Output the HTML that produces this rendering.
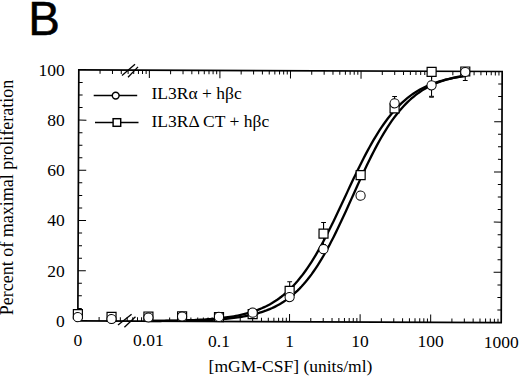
<!DOCTYPE html><html><head><meta charset="utf-8"><style>html,body{margin:0;padding:0;background:#fff;}svg{display:block;}</style></head><body>
<svg width="520" height="376" viewBox="0 0 520 376">
<rect width="520" height="376" fill="#fff"/>
<defs><clipPath id="pc"><rect x="78.33" y="70.70" width="423.37" height="251.05"/></clipPath></defs>
<text x="28.3" y="34.8" font-family="Liberation Sans, sans-serif" font-size="47.5" fill="#000" stroke="#000" stroke-width="0.5">B</text>
<g transform="rotate(0.22 290 196)">
<path d="M148.89,321.47 L150.88,321.45 L152.87,321.43 L154.85,321.41 L156.84,321.39 L158.83,321.36 L160.81,321.33 L162.80,321.30 L164.79,321.27 L166.77,321.24 L168.76,321.20 L170.75,321.16 L172.73,321.12 L174.72,321.07 L176.71,321.03 L178.69,320.97 L180.68,320.92 L182.67,320.86 L184.66,320.80 L186.64,320.73 L188.63,320.66 L190.62,320.58 L192.60,320.50 L194.59,320.41 L196.58,320.31 L198.56,320.21 L200.55,320.10 L202.54,319.98 L204.52,319.86 L206.51,319.72 L208.50,319.58 L210.48,319.43 L212.47,319.26 L214.46,319.09 L216.45,318.90 L218.43,318.70 L220.42,318.48 L222.41,318.25 L224.39,318.01 L226.38,317.75 L228.37,317.46 L230.35,317.16 L232.34,316.84 L234.33,316.50 L236.31,316.13 L238.30,315.74 L240.29,315.33 L242.27,314.88 L244.26,314.40 L246.25,313.89 L248.24,313.35 L250.22,312.77 L252.21,312.16 L254.20,311.50 L256.18,310.80 L258.17,310.06 L260.16,309.26 L262.14,308.42 L264.13,307.52 L266.12,306.57 L268.10,305.55 L270.09,304.48 L272.08,303.33 L274.06,302.12 L276.05,300.84 L278.04,299.48 L280.03,298.04 L282.01,296.52 L284.00,294.91 L285.99,293.21 L287.97,291.42 L289.96,289.53 L291.95,287.55 L293.93,285.46 L295.92,283.27 L297.91,280.97 L299.89,278.56 L301.88,276.04 L303.87,273.40 L305.85,270.66 L307.84,267.79 L309.83,264.82 L311.82,261.73 L313.80,258.53 L315.79,255.21 L317.78,251.79 L319.76,248.26 L321.75,244.63 L323.74,240.91 L325.72,237.09 L327.71,233.18 L329.70,229.20 L331.68,225.14 L333.67,221.02 L335.66,216.84 L337.64,212.62 L339.63,208.36 L341.62,204.07 L343.61,199.77 L345.59,195.45 L347.58,191.14 L349.57,186.85 L351.55,182.57 L353.54,178.33 L355.53,174.13 L357.51,169.99 L359.50,165.90 L361.49,161.88 L363.47,157.94 L365.46,154.09 L367.45,150.32 L369.43,146.64 L371.42,143.07 L373.41,139.60 L375.40,136.24 L377.38,132.99 L379.37,129.85 L381.36,126.82 L383.34,123.91 L385.33,121.11 L387.32,118.43 L389.30,115.86 L391.29,113.40 L393.28,111.05 L395.26,108.81 L397.25,106.68 L399.24,104.65 L401.22,102.72 L403.21,100.88 L405.20,99.14 L407.19,97.50 L409.17,95.94 L411.16,94.46 L413.15,93.07 L415.13,91.75 L417.12,90.51 L419.11,89.33 L421.09,88.23 L423.08,87.19 L425.07,86.21 L427.05,85.28 L429.04,84.42 L431.03,83.60 L433.01,82.83 L435.00,82.11 L436.99,81.44 L438.98,80.80 L440.96,80.21 L442.95,79.65 L444.94,79.13 L446.92,78.64 L448.91,78.18 L450.90,77.75 L452.88,77.35 L454.87,76.97 L456.86,76.62 L458.84,76.29 L460.83,75.98 L462.82,75.69 L464.80,75.42" fill="none" stroke="#000" stroke-width="2.3"/>
<path d="M148.89,321.58 L150.88,321.56 L152.87,321.55 L154.85,321.53 L156.84,321.52 L158.83,321.50 L160.81,321.48 L162.80,321.46 L164.79,321.44 L166.77,321.42 L168.76,321.40 L170.75,321.37 L172.73,321.34 L174.72,321.31 L176.71,321.28 L178.69,321.25 L180.68,321.21 L182.67,321.17 L184.66,321.13 L186.64,321.08 L188.63,321.03 L190.62,320.98 L192.60,320.92 L194.59,320.86 L196.58,320.80 L198.56,320.73 L200.55,320.65 L202.54,320.57 L204.52,320.49 L206.51,320.39 L208.50,320.30 L210.48,320.19 L212.47,320.08 L214.46,319.95 L216.45,319.82 L218.43,319.68 L220.42,319.53 L222.41,319.37 L224.39,319.20 L226.38,319.01 L228.37,318.81 L230.35,318.60 L232.34,318.37 L234.33,318.12 L236.31,317.86 L238.30,317.58 L240.29,317.28 L242.27,316.96 L244.26,316.61 L246.25,316.24 L248.24,315.84 L250.22,315.42 L252.21,314.97 L254.20,314.48 L256.18,313.97 L258.17,313.41 L260.16,312.82 L262.14,312.19 L264.13,311.52 L266.12,310.80 L268.10,310.03 L270.09,309.21 L272.08,308.33 L274.06,307.40 L276.05,306.41 L278.04,305.36 L280.03,304.24 L282.01,303.05 L284.00,301.78 L285.99,300.44 L287.97,299.01 L289.96,297.50 L291.95,295.90 L293.93,294.21 L295.92,292.42 L297.91,290.53 L299.89,288.54 L301.88,286.44 L303.87,284.23 L305.85,281.90 L307.84,279.47 L309.83,276.91 L311.82,274.24 L313.80,271.44 L315.79,268.53 L317.78,265.49 L319.76,262.33 L321.75,259.05 L323.74,255.65 L325.72,252.13 L327.71,248.51 L329.70,244.77 L331.68,240.93 L333.67,236.99 L335.66,232.96 L337.64,228.84 L339.63,224.65 L341.62,220.38 L343.61,216.06 L345.59,211.69 L347.58,207.29 L349.57,202.85 L351.55,198.40 L353.54,193.94 L355.53,189.48 L357.51,185.04 L359.50,180.63 L361.49,176.26 L363.47,171.94 L365.46,167.67 L367.45,163.48 L369.43,159.36 L371.42,155.32 L373.41,151.38 L375.40,147.53 L377.38,143.79 L379.37,140.15 L381.36,136.63 L383.34,133.23 L385.33,129.94 L387.32,126.78 L389.30,123.73 L391.29,120.81 L393.28,118.01 L395.26,115.33 L397.25,112.77 L399.24,110.32 L401.22,108.00 L403.21,105.78 L405.20,103.68 L407.19,101.68 L409.17,99.78 L411.16,97.99 L413.15,96.29 L415.13,94.69 L417.12,93.17 L419.11,91.74 L421.09,90.39 L423.08,89.12 L425.07,87.93 L427.05,86.80 L429.04,85.75 L431.03,84.75 L433.01,83.82 L435.00,82.94 L436.99,82.12 L438.98,81.35 L440.96,80.63 L442.95,79.95 L444.94,79.32 L446.92,78.72 L448.91,78.17 L450.90,77.65 L452.88,77.16 L454.87,76.71 L456.86,76.28 L458.84,75.89 L460.83,75.52 L462.82,75.17 L464.80,74.85" fill="none" stroke="#000" stroke-width="2.3"/>
<path d="M78.33,309.20H82.23 M501.70,309.20H497.80 M78.33,296.64H82.23 M501.70,296.64H497.80 M78.33,284.09H82.23 M501.70,284.09H497.80 M78.33,271.54H86.13 M501.70,271.54H493.90 M78.33,258.99H82.23 M501.70,258.99H497.80 M78.33,246.44H82.23 M501.70,246.44H497.80 M78.33,233.88H82.23 M501.70,233.88H497.80 M78.33,221.33H86.13 M501.70,221.33H493.90 M78.33,208.78H82.23 M501.70,208.78H497.80 M78.33,196.23H82.23 M501.70,196.23H497.80 M78.33,183.67H82.23 M501.70,183.67H497.80 M78.33,171.12H86.13 M501.70,171.12H493.90 M78.33,158.57H82.23 M501.70,158.57H497.80 M78.33,146.02H82.23 M501.70,146.02H497.80 M78.33,133.46H82.23 M501.70,133.46H497.80 M78.33,120.91H86.13 M501.70,120.91H493.90 M78.33,108.36H82.23 M501.70,108.36H497.80 M78.33,95.81H82.23 M501.70,95.81H497.80 M78.33,83.25H82.23 M501.70,83.25H497.80 M99.57,321.75V317.85 M99.57,70.70V74.60 M112.00,321.75V317.85 M112.00,70.70V74.60 M120.81,321.75V317.85 M120.81,70.70V74.60 M127.65,321.75V317.85 M127.65,70.70V74.60 M133.24,321.75V317.85 M133.24,70.70V74.60 M137.96,321.75V317.85 M137.96,70.70V74.60 M142.05,321.75V317.85 M142.05,70.70V74.60 M145.66,321.75V317.85 M145.66,70.70V74.60 M148.89,321.75V313.95 M148.89,70.70V78.50 M170.13,321.75V317.85 M170.13,70.70V74.60 M182.56,321.75V317.85 M182.56,70.70V74.60 M191.37,321.75V317.85 M191.37,70.70V74.60 M198.21,321.75V317.85 M198.21,70.70V74.60 M203.80,321.75V317.85 M203.80,70.70V74.60 M208.52,321.75V317.85 M208.52,70.70V74.60 M212.62,321.75V317.85 M212.62,70.70V74.60 M216.22,321.75V317.85 M216.22,70.70V74.60 M219.45,321.75V313.95 M219.45,70.70V78.50 M240.69,321.75V317.85 M240.69,70.70V74.60 M253.12,321.75V317.85 M253.12,70.70V74.60 M261.94,321.75V317.85 M261.94,70.70V74.60 M268.77,321.75V317.85 M268.77,70.70V74.60 M274.36,321.75V317.85 M274.36,70.70V74.60 M279.08,321.75V317.85 M279.08,70.70V74.60 M283.18,321.75V317.85 M283.18,70.70V74.60 M286.79,321.75V317.85 M286.79,70.70V74.60 M290.01,321.75V313.95 M290.01,70.70V78.50 M311.26,321.75V317.85 M311.26,70.70V74.60 M323.68,321.75V317.85 M323.68,70.70V74.60 M332.50,321.75V317.85 M332.50,70.70V74.60 M339.34,321.75V317.85 M339.34,70.70V74.60 M344.92,321.75V317.85 M344.92,70.70V74.60 M349.65,321.75V317.85 M349.65,70.70V74.60 M353.74,321.75V317.85 M353.74,70.70V74.60 M357.35,321.75V317.85 M357.35,70.70V74.60 M360.58,321.75V313.95 M360.58,70.70V78.50 M381.82,321.75V317.85 M381.82,70.70V74.60 M394.24,321.75V317.85 M394.24,70.70V74.60 M403.06,321.75V317.85 M403.06,70.70V74.60 M409.90,321.75V317.85 M409.90,70.70V74.60 M415.48,321.75V317.85 M415.48,70.70V74.60 M420.21,321.75V317.85 M420.21,70.70V74.60 M424.30,321.75V317.85 M424.30,70.70V74.60 M427.91,321.75V317.85 M427.91,70.70V74.60 M431.14,321.75V313.95 M431.14,70.70V78.50 M452.38,321.75V317.85 M452.38,70.70V74.60 M464.80,321.75V317.85 M464.80,70.70V74.60 M473.62,321.75V317.85 M473.62,70.70V74.60 M480.46,321.75V317.85 M480.46,70.70V74.60 M486.05,321.75V317.85 M486.05,70.70V74.60 M490.77,321.75V317.85 M490.77,70.70V74.60 M494.86,321.75V317.85 M494.86,70.70V74.60 M498.47,321.75V317.85 M498.47,70.70V74.60" stroke="#000" stroke-width="1.0" fill="none"/>
<rect x="78.33" y="70.7" width="423.37" height="251.05" fill="none" stroke="#000" stroke-width="1.7"/>
<g stroke="#000" stroke-width="1.3">
<line x1="118.50" y1="325.66" x2="132.06" y2="314.81"/>
<line x1="124.91" y1="327.93" x2="135.96" y2="317.39"/>
<line x1="121.54" y1="76.05" x2="134.50" y2="64.90"/>
<line x1="127.55" y1="77.82" x2="137.51" y2="67.48"/>
</g>
<path clip-path="url(#pc)" d="M290.01,281.76V299.83M287.62,281.76H292.41M287.62,299.83H292.41 M323.68,222.43V244.53M321.28,222.43H326.08M321.28,244.53H326.08 M394.24,96.13V109.69M391.84,96.13H396.64M391.84,109.69H396.64 M431.14,73.46V96.06M428.74,73.46H433.54M428.74,96.06H433.54 M464.80,62.79V79.86M462.40,62.79H467.20M462.40,79.86H467.20" stroke="#000" stroke-width="1.1" fill="none"/>
<rect x="428.94" y="95.16" width="4.4" height="2.0" fill="#222"/>
<rect x="73.83" y="310.47" width="9.0" height="9.0" fill="#fff" stroke="#000" stroke-width="1.2"/>
<rect x="107.50" y="312.98" width="9.0" height="9.0" fill="#fff" stroke="#000" stroke-width="1.2"/>
<rect x="144.39" y="312.56" width="9.0" height="9.0" fill="#fff" stroke="#000" stroke-width="1.2"/>
<rect x="178.06" y="312.20" width="9.0" height="9.0" fill="#fff" stroke="#000" stroke-width="1.2"/>
<rect x="214.95" y="312.78" width="9.0" height="9.0" fill="#fff" stroke="#000" stroke-width="1.2"/>
<rect x="248.62" y="309.74" width="9.0" height="9.0" fill="#fff" stroke="#000" stroke-width="1.2"/>
<rect x="285.51" y="286.30" width="9.0" height="9.0" fill="#fff" stroke="#000" stroke-width="1.2"/>
<rect x="319.18" y="228.98" width="9.0" height="9.0" fill="#fff" stroke="#000" stroke-width="1.2"/>
<rect x="356.08" y="170.29" width="9.0" height="9.0" fill="#fff" stroke="#000" stroke-width="1.2"/>
<rect x="389.74" y="103.51" width="9.0" height="9.0" fill="#fff" stroke="#000" stroke-width="1.2"/>
<rect x="426.64" y="66.80" width="9.0" height="9.0" fill="#fff" stroke="#000" stroke-width="1.2"/>
<rect x="460.30" y="66.33" width="9.0" height="9.0" fill="#fff" stroke="#000" stroke-width="1.2"/>
<circle cx="78.33" cy="318.01" r="4.6" fill="#fff" stroke="#000" stroke-width="1.0"/>
<circle cx="112.00" cy="319.69" r="4.6" fill="#fff" stroke="#000" stroke-width="1.0"/>
<circle cx="148.89" cy="318.03" r="4.6" fill="#fff" stroke="#000" stroke-width="1.0"/>
<circle cx="182.56" cy="316.90" r="4.6" fill="#fff" stroke="#000" stroke-width="1.0"/>
<circle cx="219.45" cy="317.18" r="4.6" fill="#fff" stroke="#000" stroke-width="1.0"/>
<circle cx="253.12" cy="312.84" r="4.6" fill="#fff" stroke="#000" stroke-width="1.0"/>
<circle cx="290.01" cy="297.10" r="4.6" fill="#fff" stroke="#000" stroke-width="1.0"/>
<circle cx="323.68" cy="249.07" r="4.6" fill="#fff" stroke="#000" stroke-width="1.0"/>
<circle cx="360.58" cy="195.42" r="4.6" fill="#fff" stroke="#000" stroke-width="1.0"/>
<circle cx="394.24" cy="102.91" r="4.6" fill="#fff" stroke="#000" stroke-width="1.0"/>
<circle cx="431.14" cy="84.76" r="4.6" fill="#fff" stroke="#000" stroke-width="1.0"/>
<circle cx="464.80" cy="71.33" r="4.6" fill="#fff" stroke="#000" stroke-width="1.0"/>
</g>
<g stroke="#000" stroke-width="1.45" fill="#fff">
<line x1="93.7" y1="95.5" x2="137.2" y2="95.5"/><circle cx="115.7" cy="95.6" r="3.4"/>
<line x1="95" y1="122.5" x2="138.5" y2="122.5"/><rect x="113.1" y="118.7" width="7.6" height="7.6"/>
</g>
<g font-family="Liberation Serif, serif" font-size="17.5" fill="#000">
<text x="151.5" y="98.6">IL3Rα + hβc</text>
<text x="151.5" y="126.9">IL3RΔ CT + hβc</text>
<text x="64.8" y="326.84" text-anchor="end">0</text>
<text x="64.8" y="276.63" text-anchor="end">20</text>
<text x="64.8" y="226.42" text-anchor="end">40</text>
<text x="64.8" y="176.21" text-anchor="end">60</text>
<text x="64.8" y="126.00" text-anchor="end">80</text>
<text x="64.8" y="75.79" text-anchor="end">100</text>
<text x="77.85" y="346.14" text-anchor="middle">0</text>
<text x="148.41" y="346.41" text-anchor="middle">0.01</text>
<text x="218.97" y="346.68" text-anchor="middle">0.1</text>
<text x="289.53" y="346.95" text-anchor="middle">1</text>
<text x="360.09" y="347.22" text-anchor="middle">10</text>
<text x="430.65" y="347.49" text-anchor="middle">100</text>
<text x="501.22" y="347.76" text-anchor="middle">1000</text>
<text x="290.5" y="371.8" text-anchor="middle">[mGM-CSF] (units/ml)</text>
<text transform="translate(13.2 197.5) rotate(-90)" text-anchor="middle" font-size="18">Percent of maximal proliferation</text>
</g>
</svg></body></html>
